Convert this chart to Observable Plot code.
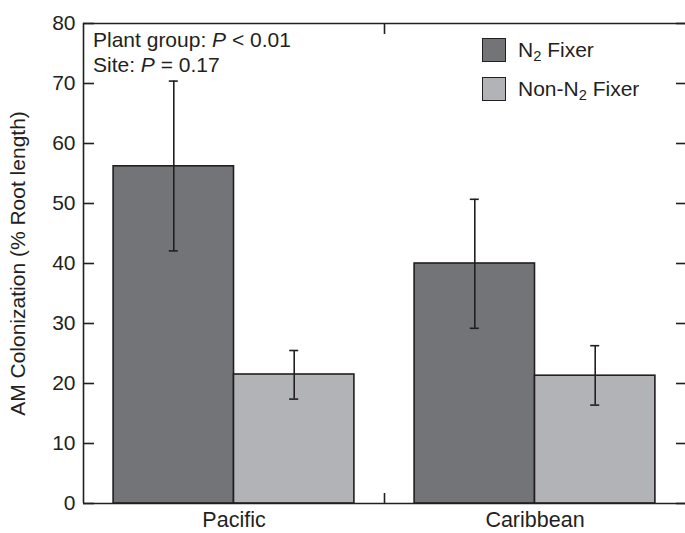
<!DOCTYPE html>
<html>
<head>
<meta charset="utf-8">
<script src="https://cdn.jsdelivr.net/npm/d3@7"></script>
<script src="https://cdn.jsdelivr.net/npm/@observablehq/plot@0.6"></script>
<style>
  html, body { margin: 0; padding: 0; background: #fff; overflow: hidden; }
  #wrap { position: relative; width: 685px; height: 533px; font-family: "Liberation Sans", Arial, Helvetica, sans-serif; color: #231f20; }
  .note { position: absolute; left: 93px; font-size: 21px; line-height: 1; white-space: nowrap; }
  .leg { position: absolute; left: 482px; font-size: 21px; white-space: nowrap; display: flex; align-items: center; }
  .sw { width: 22px; height: 22px; border: 1.5px solid #231f20; margin-right: 12px; flex: none; }
  sub { font-size: 0.7em; vertical-align: -0.3em; line-height: 0; }
</style>
</head>
<body>
<div id="wrap">
  <div id="chart"></div>
  <div class="note" style="top:29px">Plant group: <i>P</i> &lt; 0.01</div>
  <div class="note" style="top:54px">Site: <i>P</i> = 0.17</div>
  <div class="leg" style="top:38px"><div class="sw" style="background:#737478"></div><span>N<sub>2</sub> Fixer</span></div>
  <div class="leg" style="top:77px"><div class="sw" style="background:#b2b3b6"></div><span>Non-N<sub>2</sub> Fixer</span></div>
</div>
<script>
// ---- data ----
const sites = ["Pacific", "Caribbean"];
const groups = ["N2 Fixer", "Non-N2 Fixer"];
const n2Mean = [56.2, 40.0];
const n2Lower = [42.1, 29.2];
const n2Upper = [70.4, 50.7];
const nonMean = [21.5, 21.3];
const nonLower = [17.4, 16.4];
const nonUpper = [25.5, 26.3];
const yTicks = [0, 10, 20, 30, 40, 50, 60, 70, 80];

const fills = ["#737478", "#b2b3b6"];
const ink = "#231f20";

// build table: site index i, group index g
const rows = [];
sites.forEach((s, i) => {
  rows.push({site: s, i, g: 0, mean: n2Mean[i], lo: n2Lower[i], hi: n2Upper[i]});
  rows.push({site: s, i, g: 1, mean: nonMean[i], lo: nonLower[i], hi: nonUpper[i]});
});
// layout within each site slot (slot width = 1): 0.1 padding, two bars of 0.4
const pad = 0.1, bw = 0.4, cap = 0.015;
const x1 = d => d.i + pad + d.g * bw;
const x2 = d => d.i + pad + (d.g + 1) * bw;
const xc = d => d.i + pad + (d.g + 0.5) * bw;

const chart = Plot.plot({
  width: 685,
  height: 533,
  marginLeft: 83,
  marginRight: 0,
  marginTop: 23,
  marginBottom: 30,
  style: {fontFamily: '"Liberation Sans", Arial, Helvetica, sans-serif', fontSize: "21px", color: ink, background: "#fff"},
  x: {domain: [0, sites.length]},
  y: {domain: [0, 80]},
  marks: [
    Plot.rectY(rows, {x1, x2, y1: 0, y2: "mean", fill: d => fills[d.g], stroke: ink, strokeWidth: 1.6}),
    Plot.ruleX(rows, {x: xc, y1: "lo", y2: "hi", stroke: ink, strokeWidth: 1.6}),
    Plot.ruleY(rows, {y: "lo", x1: d => xc(d) - cap, x2: d => xc(d) + cap, stroke: ink, strokeWidth: 1.6}),
    Plot.ruleY(rows, {y: "hi", x1: d => xc(d) - cap, x2: d => xc(d) + cap, stroke: ink, strokeWidth: 1.6}),
    // frame lines (no right edge visible)
    Plot.ruleY([0, 80], {stroke: ink, strokeWidth: 1.6}),
    Plot.ruleX([0], {stroke: ink, strokeWidth: 1.6}),
    // y axis: inward ticks and labels
    Plot.axisY({anchor: "left", ticks: yTicks, tickSize: -11, tickFormat: () => "", label: null, stroke: ink, strokeWidth: 1.6}),
    Plot.axisY({anchor: "left", ticks: yTicks, tickSize: 0, tickPadding: 8, label: null, fill: ink, fontSize: 21}),
    Plot.axisY({anchor: "right", ticks: yTicks, tickSize: -10, tickFormat: () => "", label: null, stroke: ink, strokeWidth: 1.6}),
    // x axis: boundary tick between sites (bottom & top), site labels
    Plot.axisX({anchor: "bottom", ticks: d3.range(1, sites.length), tickSize: -10, tickFormat: () => "", label: null, stroke: ink, strokeWidth: 1.6}),
    Plot.axisX({anchor: "top", ticks: d3.range(1, sites.length), tickSize: -10, tickFormat: () => "", label: null, stroke: ink, strokeWidth: 1.6}),
    Plot.axisX({anchor: "bottom", ticks: sites.map((s, i) => i + 0.5), tickSize: 0, tickPadding: 8, tickFormat: v => sites[Math.floor(v)], label: null, fill: ink, fontSize: 21.5}),
    // y label
    Plot.text(["AM Colonization (% Root length)"], {frameAnchor: "left", textAnchor: "middle", rotate: -90, dx: -65, fill: ink, fontSize: 21})
  ]
});
document.getElementById("chart").appendChild(chart);
</script>
</body>
</html>
